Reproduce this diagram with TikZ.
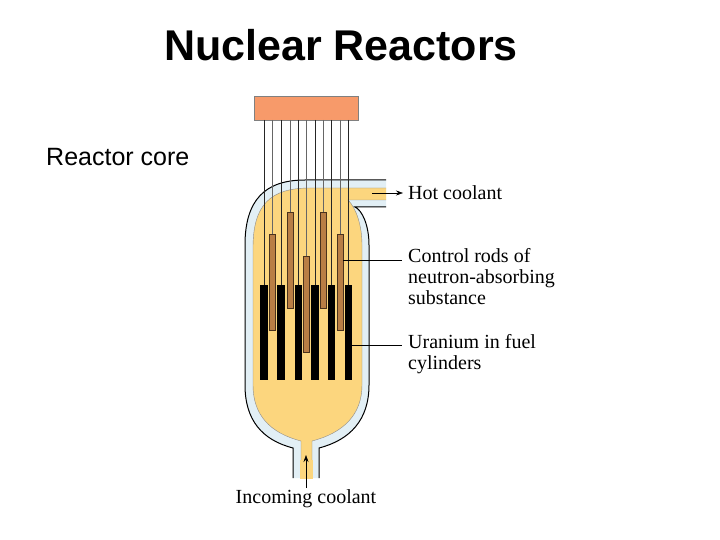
\documentclass[tikz,border=0pt]{standalone}
\usepackage{fontspec}
\setmainfont{Liberation Sans}
\newfontfamily\lblfont{Liberation Serif}
\usetikzlibrary{arrows.meta}
\definecolor{coolblue}{HTML}{E2EFF5}
\definecolor{coreyellow}{HTML}{FCD67E}
\definecolor{boxorange}{HTML}{F79A6A}
\definecolor{rodbrown}{HTML}{B97E45}
\tikzset{
  lbl/.style={font=\lblfont\fontsize{20}{21}\selectfont, anchor=west, inner sep=0pt, align=left},
  lead/.style={line width=0.6pt, black},
  wire/.style={line width=0.9pt},
  fuel/.style={fill=black, draw=none},
  rod/.style={fill=rodbrown, draw=black!60!rodbrown, line width=0.5pt},
}
\begin{document}
\begin{tikzpicture}[x=1pt,y=-1pt]
\useasboundingbox (0,0) rectangle (720,540);
% titles
\node[font=\bfseries\fontsize{43}{48}\selectfont] (title) at (341,45) {Nuclear Reactors};
\node[font=\fontsize{25}{28}\selectfont, anchor=west, inner sep=0pt] (core) at (46,157) {Reactor core};
% vessel
\fill[coolblue] (386,180) -- (305,180) .. controls (265,180) and (245,200) .. (245,245) -- (245,385) .. controls (245,420) and (262,440) .. (293,448) -- (293,478) -- (319,478) -- (319,448) .. controls (350,440) and (369,420) .. (369,385) -- (369,245) .. controls (369,225) and (362,210) .. (355,207) -- (386,207) -- cycle;
\draw[line width=1pt] (386,180) -- (305,180) .. controls (265,180) and (245,200) .. (245,245) -- (245,385) .. controls (245,420) and (262,440) .. (293,448) -- (293,478);
\draw[line width=1pt] (319,478) -- (319,448) .. controls (350,440) and (369,420) .. (369,385) -- (369,245) .. controls (369,225) and (362,210) .. (355,207) -- (386,207);
\fill[coreyellow, draw=black!45, line width=0.4pt] (386,188) -- (310,188) .. controls (270,188) and (253,205) .. (253,248) -- (253,385) .. controls (253,415) and (270,433) .. (301,441) -- (301,478) -- (312,478) -- (312,441) .. controls (343,433) and (362,415) .. (362,385) -- (362,245) .. controls (362,225) and (356,208) .. (348,200) -- (386,200);
\fill[coreyellow] (300,460) rectangle (313,479);
% control box
\node[draw=black!50, fill=boxorange, minimum width=104pt, minimum height=24pt, inner sep=0pt] (box) at (306,108) {};
% fuel cylinders
\foreach \i/\x in {1/264,2/281,3/298.3,4/315,5/331.7,6/348.3}{
  \node[fuel, minimum width=7.5pt, minimum height=95pt, inner sep=0pt, anchor=north] (f\i) at (\x,285) {};
  \draw[wire, black!85] (\x,120) -- (f\i.north);
}
% control rods
\foreach \i/\x/\t/\b in {1/272.3/234/330,2/290/212/308,3/306.7/256/352,4/323.3/212/308,5/340/234/330}{
  \node[rod, minimum width=6pt, minimum height={\b-\t}, inner sep=0pt, anchor=north] (r\i) at (\x,\t) {};
  \draw[wire, black!60] (\x,120) -- (r\i.north);
}
% labels
\node[lbl] (hot) at (408,193) {Hot coolant};
\coordinate (hotstart) at (372,193);
\coordinate (hotend) at (403,193);
\draw[lead, -{Stealth[length=7pt,width=5pt]}] (hotstart) -- (hotend);
\node[lbl, anchor=north west] (ctrl) at (408,248) {Control rods of\\neutron-absorbing\\substance};
\coordinate (ctrlend) at (402,260);
\draw[lead] (r5.east |- ctrlend) -- (ctrlend);
\node[lbl, anchor=north west] (uran) at (408,334) {Uranium in fuel\\cylinders};
\coordinate (uranend) at (402,345);
\draw[lead] (f6.east |- uranend) -- (uranend);
\node[lbl, anchor=center] (inc) at (306,499) {Incoming coolant};
\coordinate (incstart) at (306,488);
\coordinate (incend) at (306,455);
\draw[lead, -{Stealth[length=7pt,width=5pt]}] (incstart) -- (incend);
\end{tikzpicture}
\end{document}
